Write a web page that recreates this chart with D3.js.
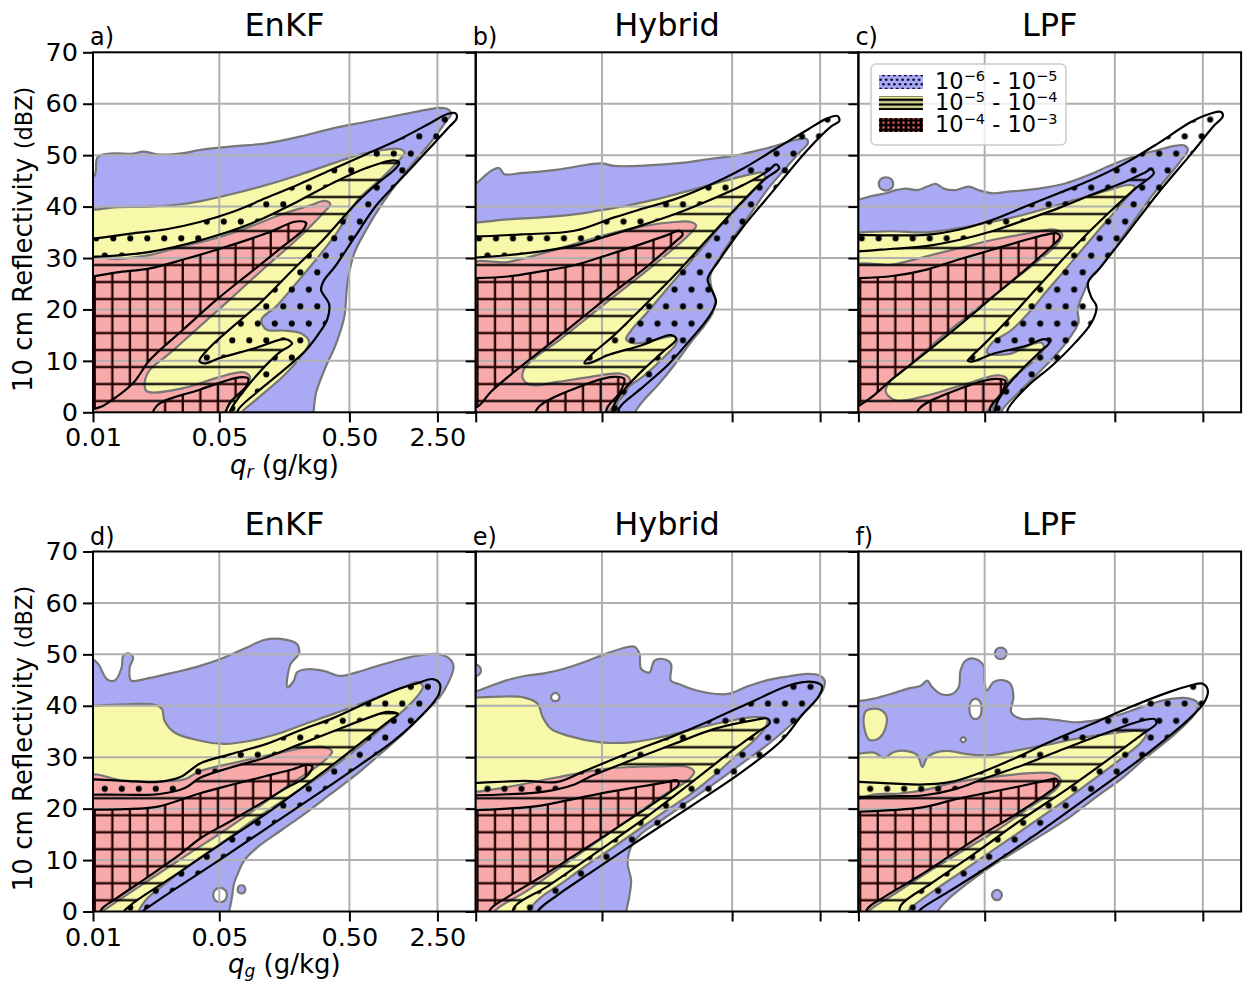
<!DOCTYPE html>
<html>
<head>
<meta charset="utf-8">
<script src="https://cdn.jsdelivr.net/npm/d3@7"></script>
<style>
  body { margin: 0; background: #fff; }
  text { font-family: "DejaVu Sans", sans-serif; }
</style>
</head>
<body>
<svg id="chart" width="1243" height="982"></svg>
<script>
// ---- axes ----
var titles = ["EnKF", "Hybrid", "LPF"];
var letters = [["a)", "b)", "c)"], ["d)", "e)", "f)"]];
var xVars = ["r", "g"];
var xTickBins = [0, 33, 67, 90];              // histogram bin index of each tick
var xTickLabels = ["0.01", "0.05", "0.50", "2.50"];
var yTicks = [0, 10, 20, 30, 40, 50, 60, 70];
var legendLabels = [["\u22126", "\u22125"], ["\u22125", "\u22124"], ["\u22124", "\u22123"]];

// ---- filled frequency contours [bin, dBZ]; each region is a list of rings ----
var qrEnkfBlue = [[[-2,-2],[-2,45.5],[0.4,46],[1.2,49.6],[4.4,50.3],[10.5,50.3],[13.1,50.7],[17.5,50.1],[23.6,50.4],[27.9,51],[36.6,51.7],[45.3,52.3],[54,53.6],[62.7,55.2],[71.4,56.5],[80.1,57.8],[87,58.8],[90.5,59.2],[92.8,58.9],[93.6,58],[92.5,56.8],[88.8,53],[84.4,49.1],[80.1,45.2],[75.7,40.7],[71.4,35.5],[68.3,31],[66.9,27],[66.3,23.8],[65.7,18.7],[63.6,13.5],[60.5,8.3],[58.3,3.8],[57.5,-0.5],[57,-2]]];
var qrEnkfYellow = [[[-2,-2],[-2,39.3],[0.5,39.4],[6.2,39.9],[14.9,40],[23.6,40.5],[29.7,41.3],[36.6,42.5],[45.3,44.2],[54,46.2],[62.7,48.4],[69.7,50.1],[75.7,51],[80.1,51.2],[81.4,50.5],[79.2,48.4],[74.9,45.2],[69.2,41.3],[63.6,34.8],[58.3,29.7],[53.1,25.1],[47.9,20.6],[44,18],[45.3,16.1],[49.7,15.9],[54.5,15.3],[56.5,13.6],[54.5,11],[49.7,7],[42.7,2.5],[38.3,-0.5],[38,-2]]];
var qrEnkfPink = [[[-2,-2],[-2,29.7],[6.2,29.8],[14.9,30.6],[23.6,32.3],[32.3,33.9],[41,36.1],[49.7,38.6],[56.6,40.2],[60.5,41.1],[62,40.5],[60.1,38.7],[53.1,33.5],[45.3,28.4],[36.6,22.5],[27.9,16.7],[20.1,11.5],[14.9,8.3],[13.6,6.3],[14,4.1],[23.6,4.7],[32.3,6.7],[39.2,7.8],[41,6.9],[40.1,5.1],[36.6,2.5],[34,-0.5],[33,-2]]];

var qrHybridBlue = [[[-2,-2],[-2,44],[0.3,44.6],[1.8,45.6],[4.4,47.1],[6.1,47.5],[7.5,46.3],[11.8,46.5],[21.4,47.2],[32.7,48.4],[36.2,47.9],[44.9,48],[53.7,48.5],[60.6,49.2],[67.6,49.9],[76.3,51.4],[83.3,52.9],[86.4,53.2],[86.8,52.3],[84.6,50.5],[80.7,47.2],[76.3,43.4],[72,38.8],[67.6,34.3],[64.1,30.5],[61.3,26.6],[61.7,24],[62.6,22.1],[62,19.5],[59.8,16.9],[56.3,13.7],[51.9,9.2],[47.6,5.3],[43.6,2.1],[41.5,-0.2],[41,-2]]];
var qrHybridYellow = [[[-2,-2],[-2,36.9],[0,36.9],[8.3,37.5],[17,37.9],[25.8,38.5],[31.9,39.2],[38.9,40.1],[47.6,41.5],[56.3,43.2],[65,45],[72,46.3],[75,46.6],[75.6,45.8],[73.3,43.7],[69.4,40.5],[64.1,36.3],[58.9,31.7],[53.7,27.2],[49.3,23.4],[44.9,19.5],[40.6,15.9],[39.3,14.2],[41.5,13.4],[47.6,14.2],[51.9,14.8],[52.6,13.7],[49.3,10.8],[44.1,7.2],[38.9,4.3],[36.8,1.5],[36,-0.2],[35.5,-2]]];
var qrHybridPink = [[[-2,-2],[-2,28.5],[8.3,29.2],[17,30.8],[25.8,32.7],[34.5,34.6],[43.2,36.1],[51.9,37],[56.3,37],[57.6,36.3],[55.4,34.3],[48.4,29.8],[39.7,24.6],[31,19.5],[22.3,14.3],[15.3,10.5],[12.7,8.5],[12.3,6.6],[14.4,5.3],[21.4,5.9],[30.1,6.9],[38,7.5],[40.2,6.6],[39.3,4],[36.2,1.4],[34.5,-0.2],[34,-2]]];

var qrLpfBlue = [
  [[-2,-2],[-2,41.2],[0.2,41.4],[3.7,42.1],[7.2,42.6],[9.8,43.2],[12.4,43.5],[15.4,43.2],[18,43.9],[20.2,44.4],[22.3,43.5],[25.4,43.2],[28.8,43.9],[31.4,43.2],[34.9,42.6],[39.3,42.9],[43.6,43.2],[48.8,43.7],[54,44.5],[60,46.1],[66.1,48.1],[72.2,49.8],[78.3,51],[82.6,51.8],[85.2,51.9],[86.1,51],[84.3,49],[80.9,45.8],[76.5,41.9],[72.2,37.4],[67.9,32.9],[63.5,28.4],[60.9,26.5],[58.8,23.2],[57.3,20],[57.5,17.4],[54.9,14.2],[51.4,11],[47.1,7.7],[41.9,3.9],[37.5,0.3],[37,-2]],
  [[7.2,45.7],[8.6,45.3],[9.1,44.4],[8.6,43.5],[7.2,43.1],[5.8,43.5],[5.3,44.4],[5.8,45.3]]
];
var qrLpfYellow = [[[-2,-2],[-2,35],[0,35],[8.9,35.2],[17.6,35],[26.2,35.8],[33.2,36.8],[39.3,37.7],[47.9,39.4],[56.6,41.3],[65.3,43.2],[70.5,44.2],[72.2,43.9],[69.6,41.3],[64.4,36.8],[59.2,32.3],[54,27.7],[48.8,23.2],[45.3,20],[40,16],[34.9,13.5],[33.6,11.6],[39.2,11.3],[45.3,13.2],[47.9,13.5],[48.4,12.3],[45.3,9.7],[40.1,6.5],[36.5,3.6],[35,0.5],[34.8,-2]]];
var qrLpfPink = [[[-2,-2],[-2,28],[8.9,28.7],[17.6,30.3],[26.2,31.9],[34.9,33.5],[43.6,34.7],[51.4,35.5],[53.3,34.5],[51.8,32.6],[46.2,29],[38.4,24.5],[29.7,19.4],[21,14.2],[13.2,9],[8,5.8],[7.2,3.9],[9.8,2.3],[17.6,3.2],[28,5.5],[36.6,7.2],[38.8,6.5],[38,3.9],[34.9,1.3],[33.2,-0.3],[33,-2]]];

var qgEnkfBlue = [
  [[-2,-2],[-2,48.8],[-0.3,49.1],[1.4,48.1],[3.6,45.2],[5.7,44.9],[7.5,47.5],[7.9,49.7],[9.2,50.2],[10.5,49.4],[9.6,47.5],[10,44.9],[13.5,45.2],[21.3,46.5],[28.2,47.8],[34.3,49.4],[40.4,51.4],[44.7,52.8],[49,53],[53.3,52],[53.8,50.1],[51.6,48.1],[50.8,43.6],[52.5,44.9],[53.3,46.5],[55.9,47.1],[60.2,46.8],[64.6,45.8],[68.9,46.5],[73.2,47.5],[79.3,48.8],[84.5,49.7],[89.7,50.1],[92.7,49.4],[94.2,47.8],[93.1,44.9],[90.5,41.6],[86.2,38.4],[81,34.5],[75,30.6],[68.9,26.7],[62,22.8],[55.1,18.9],[49,15.7],[43,12.5],[39.5,9.9],[37.8,7.3],[36.8,5.3],[36.3,2.7],[35.8,0.8],[35.5,-0.2],[35.3,-2]],
  [[33.2,4.6],[34.5,4.2],[35,3.2],[34.5,2.2],[33.2,1.8],[31.9,2.2],[31.4,3.2],[31.9,4.2]],
  [[38.8,5.1],[39.5,4.9],[39.8,4.3],[39.5,3.7],[38.8,3.5],[38.1,3.7],[37.8,4.3],[38.1,4.9]]
];
var qgEnkfYellow = [[[-2,-2],[-2,40],[0,40],[8.3,40.3],[16.1,40.2],[18,39.4],[18.7,37.1],[21.3,34.8],[27.4,33.3],[34.3,32.6],[41.2,33.2],[48.1,34.5],[55.9,36.6],[64.6,38.9],[73.2,41.3],[81,43.6],[84.9,44.6],[86.2,43.7],[84.9,42],[81,39],[75.8,35.8],[68.9,31.6],[60.2,26.7],[51.6,22.5],[43,18.3],[34.3,13.7],[25.6,9.2],[18.7,5.3],[14.4,2.7],[11.8,-0.2],[11.5,-2]]];
var qgEnkfPink = [[[-2,-2],[-2,26.1],[8.3,25.4],[17,25.3],[23.9,25.7],[28,27.3],[38.6,29.2],[47.3,30.6],[55.9,31.9],[60.2,32],[62.5,31.1],[59.4,28.7],[51.6,24.8],[43,20.2],[34.3,15.7],[25.6,11.5],[17,7.3],[8.3,3],[4,0.8],[2.3,-0.2],[2,-2]]];

var qgHybridBlue = [
  [[-2,-2],[-2,42.8],[0,42.8],[4,43.9],[8.3,45],[12.7,45.8],[17.9,46.3],[23.1,47.2],[28.4,48.5],[33.6,50],[38,51.1],[41.5,51.5],[42.8,50.1],[43.2,47.2],[45.4,46.5],[46.7,48.8],[48.9,49.1],[51,48.2],[51,44.9],[52.8,44.3],[56.3,43.3],[60.6,42.5],[65.9,42.3],[71.1,43.8],[76.3,45],[81.6,45.7],[86.8,46.2],[89.8,45.9],[91.2,44.9],[90.7,43],[88.5,40.7],[85,38.1],[80.7,35.2],[75.5,32],[69.4,28.7],[62.4,24.9],[55.4,21.3],[48.4,17.7],[43.2,15.1],[40.6,12.6],[39.7,9.3],[40.6,6.1],[40.1,2.8],[39.3,-0.1],[39,-2]],
  [[0,48],[1,47.6],[1.4,46.9],[1,46.2],[0,45.8],[-1,46.2],[-1.4,46.9],[-1,47.6]],
  [[20.8,42.5],[21.6,42.2],[21.9,41.7],[21.6,41.1],[20.8,40.9],[20,41.1],[19.7,41.7],[20,42.2]]
];
var qgHybridYellow = [[[-2,-2],[-2,41.5],[0,41.6],[6.6,41.8],[12.7,41.6],[16.2,40.4],[17.5,37.8],[19.7,35.5],[24,34.2],[32.7,32.9],[40.6,32.9],[48.4,33.9],[57.1,35.5],[65.9,37],[72.8,37.8],[76.1,37.5],[75.8,35.9],[72.8,33.3],[67.6,30],[62.4,26.5],[56.3,22.9],[49.3,19.4],[42.3,15.8],[35.4,12.2],[28.4,8.7],[22.3,5.4],[17.1,2.8],[13.6,-0.1],[13,-2]]];
var qgHybridPink = [[[-2,-2],[-2,23.3],[0,23.3],[8.3,24.2],[21.4,26.1],[34.5,27.8],[47.6,28.2],[55.4,28.1],[57.1,27.1],[55.4,25.5],[48.4,22.3],[39.7,17.7],[31,13.2],[22.3,8.7],[13.6,4.1],[4.8,-0.1],[4.5,-2]]];

var qgLpfBlue = [
  [[-2,-2],[-2,40.8],[0,40.9],[4.1,41.4],[8.5,42.3],[12.8,43.3],[16.3,43.9],[18,44.9],[19.3,43.6],[21.5,42.3],[24.5,42.3],[26.2,43.6],[26.7,46.9],[28,48.8],[30.6,49.1],[32.7,47.8],[32.9,44.9],[33.6,43],[35.3,44.6],[37.5,45],[39.7,44.3],[40.5,41.7],[39.9,38.8],[42.3,37.5],[47.5,37.5],[51.8,37.2],[57,36.8],[62.2,37.2],[67.4,38.1],[72.6,39.4],[77.8,40.7],[82.2,41.4],[86.5,41.4],[88.7,40.5],[88.2,38.8],[85.6,36.5],[81.3,33.6],[75.2,30],[69.2,26.1],[62.2,22.3],[55.3,18.4],[48.4,15.1],[41.4,11.9],[34.5,8.7],[28.4,5.4],[23.2,2.2],[20.6,-0.1],[20,-2]],
  [[37.2,51.3],[38.3,51],[38.7,50.2],[38.3,49.4],[37.2,49.1],[36.1,49.4],[35.7,50.2],[36.1,51]],
  [[36.2,4.2],[37.1,3.9],[37.5,3.2],[37.1,2.5],[36.2,2.2],[35.3,2.5],[34.9,3.2],[35.3,3.9]],
  [[30.6,41.4],[31.8,40.8],[32.2,39.4],[31.8,38],[30.6,37.4],[29.4,38],[29,39.4],[29.4,40.8]],
  [[27.4,33.9],[27.9,33.7],[28.1,33.4],[27.9,33.1],[27.4,32.9],[26.9,33.1],[26.7,33.4],[26.9,33.7]]
];
var qgLpfYellow = [
  [[-2,-2],[-2,30.7],[0,30.7],[4.1,30.9],[6.7,29.9],[9.3,31],[12.8,31.2],[15.4,30.4],[16.7,28.1],[18,30],[20.6,31],[24.1,31.2],[28.4,30.6],[34.5,30.4],[40.5,31.2],[48.4,32.3],[57,33.6],[65.7,34.6],[72.6,35.1],[75.2,34.6],[73.9,32.9],[69.2,30],[62.2,26.1],[55.3,22.3],[48.4,18.7],[41.4,15.1],[34.5,11.6],[27.5,8],[20.6,4.5],[14.5,1.2],[12.8,-0.1],[12.5,-2]],
  [[2,39],[5,39.4],[7.2,38.2],[7,35.5],[5.2,33.6],[2.8,33.4],[1.6,35.5],[1.4,37.8]]
];
var qgLpfPink = [[[-2,-2],[-2,21.9],[0,21.9],[4.1,22.8],[10.2,22.9],[17.1,23.6],[25.8,25.2],[34.5,26.1],[43.1,26.8],[51,26.8],[52.9,25.5],[51.8,23.9],[44.9,20.3],[36.2,15.8],[27.5,11.9],[18.9,8],[10.2,3.8],[4.1,0.9],[2.4,-0.1],[2,-2]]];

// ---- hatched contours (L1: 1e-6, L2: 1e-5, L3: 1e-4) ----
var qrEnkfL1 = [[[-2,-2],[-2,33.8],[0,33.8],[10.5,34.8],[19.2,35.6],[27.9,37],[36.6,39],[45,41.6],[54,44.4],[62.7,47.3],[71.4,50.2],[80.1,53.1],[88.3,56.3],[92.6,58],[94.8,58.1],[95,57.1],[93.2,55.6],[87.5,51],[80,45],[74,40.2],[68.5,34.2],[63.3,28.4],[60.3,25.6],[59.6,23.8],[61.7,21],[61.2,18],[59,15.3],[55.3,11.8],[49.5,8],[43,4],[37.8,0.3],[37.5,-2]]];
var qrEnkfL2 = [[[-2,-2],[-2,30.2],[0,30.2],[14.9,31.2],[27.9,33.4],[41,36.6],[54,41.2],[62.7,44.6],[71.4,47.5],[78.5,49],[80,48.6],[79.2,47.5],[74,44.3],[68.8,40.7],[60.1,33.5],[51.4,27.1],[43.6,21.2],[36.6,16.7],[30.5,12.6],[27.8,10],[29,9.5],[33,10.5],[42,12.4],[50.3,14.2],[52,13.4],[48.5,11.5],[43.5,7.8],[38.5,3.3],[35.8,0.2],[35.5,-2]]];
var qrEnkfL3 = [
  [[-2,26.2],[0,26.4],[6.2,27.2],[14.9,28],[23.6,29.7],[32.3,31.6],[45.3,34.8],[53.1,37.1],[55.7,36.8],[54.9,35.5],[49.7,32.3],[41,27.1],[32.3,21.9],[23.6,16.1],[14.9,10.2],[10.5,5.7],[4.4,2.1],[1.8,1],[-2,0.8]],
  [[15.5,-2],[16.6,1.2],[27.9,4.4],[38.3,6.8],[40.5,6.6],[40.1,5.1],[35.7,1.8],[33,-2]]
];

var qrHybridL1 = [[[-2,-2],[-2,34.2],[0,34.2],[12,34.6],[25.8,35.3],[36.2,37.9],[43.2,39.5],[51.9,41.4],[60.6,44],[69.4,47.2],[78.1,51.1],[86.8,55],[92,57.2],[94.6,57.6],[95,56.6],[92.9,55.6],[86.8,51.1],[78.1,43.4],[69.4,35.6],[63.3,29.2],[60.6,25.9],[61.9,23.4],[62.8,21.4],[60.6,18.2],[56.3,14.3],[50.2,9.2],[43.2,4.6],[37.5,0.8],[37.2,-2]]];
var qrHybridL2 = [[[-2,-2],[-2,30.1],[0,30.1],[14,31],[25.8,32.4],[34.5,34.3],[43.2,36.3],[51.9,38.5],[60.6,41.1],[69.4,44],[76.3,46.9],[78.5,48.2],[79.3,47.5],[75.5,45.3],[69.4,40.8],[60.6,33.7],[51.9,26.6],[43.2,20.1],[36.2,15],[30.1,11.1],[28.4,9.6],[30,9.6],[34.5,11.1],[43.2,13],[51,15],[52.4,14.2],[48.8,11.7],[43.8,8.3],[39.5,5],[36.5,2],[35.5,-0.2],[35.3,-2]]];
var qrHybridL3 = [
  [[-2,26.1],[0,26.1],[8.3,26.4],[17,27.4],[25.8,28.6],[34.5,30.6],[43.2,32.7],[50.2,34.5],[53.2,35.3],[54.1,34.6],[51.9,33],[45,28.5],[36.2,23.4],[27.5,18.2],[18.8,13],[10.1,7.9],[4,4],[0.5,1.1],[-2,0.8]],
  [[15.5,-2],[16.2,0.8],[25.8,4.6],[36,6.9],[38.8,6.5],[37.8,4],[34.3,0.8],[33.5,-2]]
];

var qrLpfL1 = [[[-2,-2],[-2,34.5],[0,34.5],[17.6,34.5],[26.2,35.5],[34.9,37.4],[43.6,40],[52.3,42.6],[60.9,45.2],[69.6,48.4],[78.3,52.3],[87,56.5],[92.1,58.1],[94.8,58.4],[95.2,57.5],[93,55.8],[87,50.3],[78.3,42.6],[69.6,34.2],[62.7,27.7],[60,25.2],[60.9,22.3],[62.2,20.6],[60.9,17.4],[56.6,13.5],[50.5,9],[44.4,5.2],[39,0.5],[38.8,-2]]];
var qrLpfL2 = [[[-2,-2],[-2,31.3],[0,31.3],[8.9,31.8],[17.6,32.3],[26.2,33.5],[34.9,35.2],[43.6,37.4],[52.3,39.7],[60.9,42.3],[69.6,44.8],[74.8,46.6],[76.5,47.2],[77.2,46.5],[72.2,43.4],[65.3,38.7],[56.6,32.3],[47.9,25.2],[39.2,18.1],[33.2,13.5],[29.2,10.6],[28.6,10],[30,9.9],[34.9,11.3],[43.6,12.9],[48.8,14.2],[49.8,13.5],[47.5,11.8],[42.8,8.4],[38.8,5],[36.2,1.8],[35.5,0],[35.3,-2]]];
var qrLpfL3 = [
  [[-2,26.1],[0,26.1],[8.9,26.5],[17.6,27.7],[26.2,29.7],[34.9,31.6],[43.6,33.5],[48.8,34.5],[51.8,34.8],[52.7,34.1],[50.5,32.3],[43.6,27.7],[34.9,22.3],[26.2,16.8],[17.6,11.6],[8.9,6.5],[2.8,2.6],[-2,1]],
  [[15.5,-2],[15.8,0.6],[26.2,4.5],[35.8,6.5],[38.4,6.1],[37.5,3.9],[34.5,1],[34,-2]]
];

var qgEnkfL1 = [[[-2,-2],[-2,25.6],[0,25.7],[8.3,25.4],[17,25.2],[23,26.2],[28,28.8],[36,30.6],[45.4,32.6],[54,35.2],[62.7,37.6],[72.4,40.9],[80,43.3],[84.9,44.4],[88.8,45.2],[90.6,44.3],[90.4,42.3],[87.9,39.7],[82.7,35.8],[78.4,33.1],[71.9,29.6],[59.4,23.2],[46.4,16.7],[33.4,10.2],[20.5,3.9],[14.4,0.8],[12.7,-0.2],[12.5,-2]]];
var qgEnkfL2 = [[[-2,-2],[-2,22.6],[0,22.7],[8.3,22.7],[17,22.8],[24,24],[28,26],[36,28],[45.4,30],[54,32.5],[63.3,35.2],[72.4,37.8],[77,38.8],[79.7,38.4],[77.5,37.1],[71.9,33.9],[59.4,26.7],[46.4,19.6],[33.4,13.1],[20.5,6.6],[10.1,1.4],[7.9,-0.2],[7.5,-2]]];
var qgEnkfL3 = [[[-2,19.8],[0,19.8],[8.3,19.9],[17,20.4],[28,23],[36,24.6],[45,26.3],[52,27.6],[55.9,28.5],[57.3,28.2],[55.8,26.3],[50,23.8],[45.4,21.7],[36,17.6],[28,14.2],[22.2,10.8],[13.5,6.3],[5.8,2.4],[2.3,0.5],[1,-2],[-2,-2]]];

var qgHybridL1 = [[[-2,-2],[-2,25],[0,25],[12.7,25.4],[21.4,25.2],[28.4,27.3],[40.6,31],[51.9,34.2],[62.4,37.5],[72.8,41],[82.4,44.1],[88.5,44.6],[90.5,43.8],[89.6,41.8],[85.5,38.4],[80,33.3],[69.5,27.1],[56.5,20.6],[43.4,14.2],[30.3,7.7],[21.4,3.2],[16.2,0],[16,-2]]];
var qgHybridL2 = [[[-2,-2],[-2,22.6],[0,22.6],[8.3,22.8],[17,23.2],[25.8,24.7],[30.1,26.3],[40.6,29.4],[51.9,32.6],[62.4,35.5],[72.8,37.2],[76.3,37.5],[76.8,36.6],[73.7,34.9],[67.6,31.6],[55.4,24.5],[43.2,17.6],[31,11.2],[18.8,4.9],[10.1,0.9],[9,-2]]];
var qgHybridL3 = [[[-2,19.7],[0,19.7],[8.3,20],[17,20.6],[25.8,21.9],[34.5,23.2],[43.2,24.3],[50.2,25.2],[52.6,25.5],[53,24.7],[50.2,22.9],[43.2,19.4],[34.5,15.1],[25.8,10.9],[17,6.7],[8.3,2.8],[4,0.6],[2,-2],[-2,-2]]];

var qgLpfL1 = [[[-2,-2],[-2,25.2],[0,25.2],[8.5,24.9],[17.1,24.7],[24.1,25.2],[30.1,26.5],[39.7,29.4],[50.1,33],[60.5,36.3],[70.9,39.7],[81.3,42.7],[86.5,43.9],[90,44.3],[91.3,43],[90.4,40.7],[86.5,37.5],[80.4,33.6],[70.9,28.1],[58.8,21.6],[46.6,15.1],[34.5,9],[24.1,4.1],[17.1,0.9],[15.8,0],[15.5,-2]]];
var qgLpfL2 = [[[-2,-2],[-2,22.3],[0,22.3],[8.5,22.4],[17.1,22.6],[25.8,23.9],[32.7,25.8],[43.1,28.5],[53.6,31.6],[64,34.5],[73.5,37],[77.4,37.4],[77.8,36.5],[74.4,34.6],[67.4,30.7],[55.3,24.2],[43.1,18.1],[31,11.6],[18.9,5.4],[11.1,1.2],[10,-2]]];
var qgLpfL3 = [[[-2,19.4],[0,19.4],[8.5,19.7],[17.1,20.3],[25.8,21.9],[34.5,23.2],[43.1,24.5],[49.2,25.5],[51.6,25.8],[52.3,24.9],[49.2,22.9],[41.4,19],[32.7,15.1],[24.1,10.9],[15.4,6.7],[6.7,2.8],[2.4,0.6],[1,-2],[-2,-2]]];

var panelFills = [
  [[qrEnkfBlue, qrEnkfYellow, qrEnkfPink], [qrHybridBlue, qrHybridYellow, qrHybridPink], [qrLpfBlue, qrLpfYellow, qrLpfPink]],
  [[qgEnkfBlue, qgEnkfYellow, qgEnkfPink], [qgHybridBlue, qgHybridYellow, qgHybridPink], [qgLpfBlue, qgLpfYellow, qgLpfPink]]
];
var panelHatch = [
  [[qrEnkfL1, qrEnkfL2, qrEnkfL3], [qrHybridL1, qrHybridL2, qrHybridL3], [qrLpfL1, qrLpfL2, qrLpfL3]],
  [[qgEnkfL1, qgEnkfL2, qgEnkfL3], [qgHybridL1, qgHybridL2, qgHybridL3], [qgLpfL1, qgLpfL2, qgLpfL3]]
];

// ---- layout ----
var W = 382.7, H = 360;
var panelLefts = [93, 475.7, 858.4];
var rowTops = [52.3, 551.5];
var fillColors = ["#aaaaf4", "#f8f8aa", "#f8aaaa"];

var svg = d3.select("#chart");
var defs = svg.append("defs");

var x = d3.scaleLinear().domain([0, 100]).range([0, W]);
var y = d3.scaleLinear().domain([0, 70]).range([H, 0]);

var contour = d3.line()
    .x(function(d) { return x(d[0]); })
    .y(function(d) { return y(d[1]); })
    .curve(d3.curveCatmullRomClosed.alpha(0.5));

function ringsPath(rings) {
  return rings.map(function(r) { return contour(r); }).join("");
}

defs.append("clipPath").attr("id", "plotClip")
  .append("rect").attr("width", W).attr("height", H);

// hatch patterns
var pDots = defs.append("pattern").attr("id", "hDots")
    .attr("patternUnits", "userSpaceOnUse").attr("width", 17).attr("height", 34);
[[3.3, 16], [11.8, 33.3], [11.8, -0.7]].forEach(function(c) {
  pDots.append("circle").attr("cx", c[0]).attr("cy", c[1]).attr("r", 3.1).attr("fill", "#000");
});
defs.append("pattern").attr("id", "hLines")
    .attr("patternUnits", "userSpaceOnUse").attr("width", 17).attr("height", 17)
  .append("rect").attr("x", 0).attr("y", 7.6).attr("width", 17).attr("height", 2.2).attr("fill", "#000");
var pGrid = defs.append("pattern").attr("id", "hGrid")
    .attr("patternUnits", "userSpaceOnUse").attr("width", 17.6).attr("height", 17);
pGrid.append("rect").attr("x", 0.6).attr("y", 0).attr("width", 2.3).attr("height", 17).attr("fill", "#200000");
pGrid.append("rect").attr("x", 0).attr("y", 7.6).attr("width", 17.6).attr("height", 2.3).attr("fill", "#200000");

// legend patterns (denser)
var lDots = defs.append("pattern").attr("id", "lDots")
    .attr("patternUnits", "userSpaceOnUse").attr("width", 5.5).attr("height", 9);
lDots.append("circle").attr("cx", 1.4).attr("cy", 2.2).attr("r", 1.3).attr("fill", "#000030");
lDots.append("circle").attr("cx", 4.15).attr("cy", 6.7).attr("r", 1.3).attr("fill", "#000030");
defs.append("pattern").attr("id", "lLines")
    .attr("patternUnits", "userSpaceOnUse").attr("width", 6).attr("height", 4.7)
  .append("rect").attr("y", 1.6).attr("width", 6).attr("height", 2.6).attr("fill", "#000");
var lGrid = defs.append("pattern").attr("id", "lGrid")
    .attr("patternUnits", "userSpaceOnUse").attr("width", 5).attr("height", 4.7);
lGrid.append("rect").attr("width", 5).attr("height", 4.7).attr("fill", "#000");
lGrid.append("rect").attr("x", 1.4).attr("y", 1.2).attr("width", 2.2).attr("height", 2.2).attr("fill", "#f06060");

for (var row = 0; row < 2; row++) {
  for (var col = 0; col < 3; col++) {
    drawPanel(row, col);
  }
}

function drawPanel(row, col) {
  var k = row * 3 + col;
  var fills = panelFills[row][col];
  var hatch = panelHatch[row][col];
  var g = svg.append("g")
      .attr("transform", "translate(" + panelLefts[col] + "," + rowTops[row] + ")");
  var plot = g.append("g").attr("clip-path", "url(#plotClip)");

  fills.forEach(function(rings, i) {
    plot.append("path")
        .attr("d", ringsPath(rings))
        .attr("fill", fillColors[i])
        .attr("fill-rule", "evenodd")
        .attr("stroke", "#777777")
        .attr("stroke-width", 2.2);
  });

  // grid
  plot.selectAll(".gx").data(xTickBins.slice(1)).enter().append("line")
      .attr("x1", function(d) { return x(d); }).attr("x2", function(d) { return x(d); })
      .attr("y1", 0).attr("y2", H)
      .attr("stroke", "#b0b0b0").attr("stroke-width", 2);
  plot.selectAll(".gy").data(yTicks.slice(1, -1)).enter().append("line")
      .attr("x1", 0).attr("x2", W)
      .attr("y1", function(d) { return y(d); }).attr("y2", function(d) { return y(d); })
      .attr("stroke", "#b0b0b0").attr("stroke-width", 2);

  // hatched bands: L1\L2 dots, L2\L3 lines, L3 grid
  var m1 = defs.append("mask").attr("id", "m1-" + k).attr("maskUnits", "userSpaceOnUse")
      .attr("x", -20).attr("y", -20).attr("width", W + 40).attr("height", H + 40);
  m1.append("rect").attr("x", -20).attr("y", -20).attr("width", W + 40).attr("height", H + 40).attr("fill", "#fff");
  m1.append("path").attr("d", ringsPath(hatch[1])).attr("fill", "#000");
  var m2 = defs.append("mask").attr("id", "m2-" + k).attr("maskUnits", "userSpaceOnUse")
      .attr("x", -20).attr("y", -20).attr("width", W + 40).attr("height", H + 40);
  m2.append("rect").attr("x", -20).attr("y", -20).attr("width", W + 40).attr("height", H + 40).attr("fill", "#fff");
  m2.append("path").attr("d", ringsPath(hatch[2])).attr("fill", "#000");

  plot.append("path").attr("d", ringsPath(hatch[0])).attr("fill", "url(#hDots)").attr("mask", "url(#m1-" + k + ")");
  plot.append("path").attr("d", ringsPath(hatch[1])).attr("fill", "url(#hLines)").attr("mask", "url(#m2-" + k + ")");
  plot.append("path").attr("d", ringsPath(hatch[2])).attr("fill", "url(#hGrid)");

  hatch.forEach(function(rings) {
    plot.append("path").attr("d", ringsPath(rings))
        .attr("fill", "none").attr("stroke", "#000").attr("stroke-width", 2.2);
  });

  g.append("rect").attr("width", W).attr("height", H)
      .attr("fill", "none").attr("stroke", "#000").attr("stroke-width", 2);

  var first = col === 0;
  var ax = g.append("g").attr("class", "axis axis--y")
      .call(d3.axisLeft(y).tickValues(yTicks).tickSize(10).tickPadding(5)
        .tickFormat(first ? d3.format("d") : function() { return ""; }));
  var bx = g.append("g").attr("class", "axis axis--x")
      .attr("transform", "translate(0," + H + ")")
      .call(d3.axisBottom(x).tickValues(xTickBins).tickSize(10).tickPadding(6)
        .tickFormat(function(d, i) { return first ? xTickLabels[i] : ""; }));
  [ax, bx].forEach(function(a) {
    a.select(".domain").remove();
    a.attr("font-size", 25.5).attr("font-family", "DejaVu Sans, sans-serif");
    a.selectAll(".tick line").attr("stroke", "#000").attr("stroke-width", 2);
    a.selectAll(".tick text").attr("fill", "#000");
  });

  g.append("text").attr("x", W / 2).attr("y", -16.3)
      .attr("text-anchor", "middle").attr("font-size", 32).text(titles[col]);
  g.append("text").attr("x", -3).attr("y", -7)
      .attr("font-size", 24).text(letters[row][col]);

  if (first) {
    var xl = g.append("text").attr("x", W / 2).attr("y", H + 61.5)
        .attr("text-anchor", "middle").attr("font-size", 26);
    xl.append("tspan").attr("font-style", "italic").text("q");
    xl.append("tspan").attr("font-style", "italic").attr("font-size", 17).attr("dy", 4).text(xVars[row]);
    xl.append("tspan").attr("dy", -4).text(" (g/kg)");

    var yl = g.append("text")
        .attr("transform", "translate(-61," + (H / 2 + 7) + ") rotate(-90)")
        .attr("text-anchor", "middle").attr("font-size", 26);
    yl.append("tspan").text("10 cm Reflectivity ");
    yl.append("tspan").attr("font-size", 22.5).text("(dBZ)");
  }
}

// ---- legend (panel c) ----
var leg = svg.append("g").attr("transform", "translate(871,64)");
leg.append("rect").attr("width", 195).attr("height", 81).attr("rx", 5)
    .attr("fill", "#fff").attr("fill-opacity", 0.8)
    .attr("stroke", "#cccccc").attr("stroke-width", 1.5);
var legPatterns = ["url(#lDots)", "url(#lLines)", "url(#lGrid)"];
var legRowY = [11, 32, 54];
legendLabels.forEach(function(lab, i) {
  leg.append("rect").attr("x", 8).attr("y", legRowY[i]).attr("width", 44).attr("height", 14)
      .attr("fill", fillColors[i]);
  leg.append("rect").attr("x", 8).attr("y", legRowY[i]).attr("width", 44).attr("height", 14)
      .attr("fill", legPatterns[i]);
  var t = leg.append("text").attr("x", 64).attr("y", legRowY[i] + 14).attr("font-size", 22.5);
  t.append("tspan").text("10");
  t.append("tspan").attr("font-size", 14.5).attr("dy", -8).text(lab[0]);
  t.append("tspan").attr("dy", 8).text(" - 10");
  t.append("tspan").attr("font-size", 14.5).attr("dy", -8).text(lab[1]);
});
</script>
</body>
</html>
